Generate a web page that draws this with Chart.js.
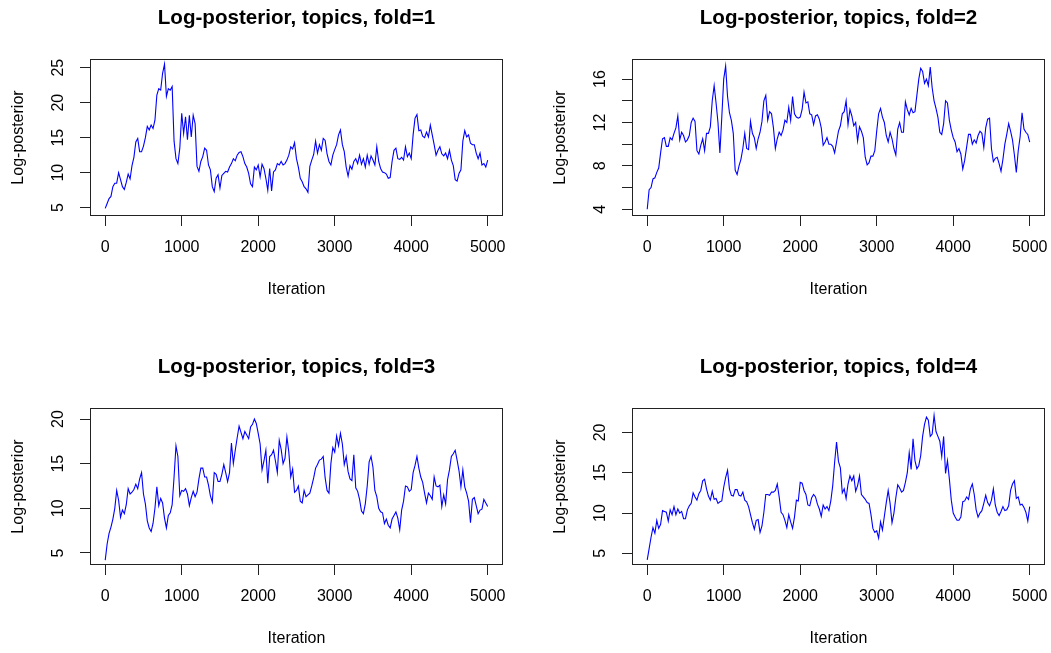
<!DOCTYPE html>
<html lang="en">
<head>
<meta charset="UTF-8">
<title>Log-posterior traces, topics model</title>
<script src="https://cdn.jsdelivr.net/npm/chart.js"></script>
<style>
  body { margin: 0; background: #fff; }
  #wrap { position: relative; width: 1051px; height: 653px; }
  .panel { position: absolute; width: 509px; height: 304px; }
</style>
</head>
<body>
<div id="wrap">
  <div class="panel" style="left:0;top:0"><canvas id="fold1" width="509" height="304"></canvas></div>
  <div class="panel" style="left:542px;top:0"><canvas id="fold2" width="509" height="304"></canvas></div>
  <div class="panel" style="left:0;top:349px"><canvas id="fold3" width="509" height="304"></canvas></div>
  <div class="panel" style="left:542px;top:349px"><canvas id="fold4" width="509" height="304"></canvas></div>
</div>

<script>
// trace is stored thinned: one value every STEP iterations (0..5000)
const STEP = 25;
const xTicks = [0, 1000, 2000, 3000, 4000, 5000];
const xRange = [-199, 5200];

const fold1 = [
  4.9, 5.6, 6.3, 6.6, 8.0, 8.5, 8.5, 10.0, 9.0, 8.0,
  7.6, 8.6, 9.8, 9.1, 11.0, 12.2, 14.4, 14.9, 13.0, 13.0,
  13.8, 15.0, 16.6, 16.1, 16.8, 16.3, 17.5, 21.1, 22.0, 21.8,
  24.2, 25.5, 20.9, 22.0, 21.8, 22.3, 14.5, 12.0, 11.3, 13.5,
  18.5, 15.6, 18.0, 14.7, 18.2, 15.1, 18.2, 17.0, 10.9, 10.2,
  11.6, 12.3, 13.5, 13.2, 11.1, 10.4, 8.0, 7.3, 9.2, 9.7,
  7.8, 9.6, 9.9, 10.2, 10.1, 10.8, 11.3, 12.0, 11.7, 12.5,
  12.9, 13.0, 12.3, 11.3, 10.8, 9.9, 8.4, 8.0, 10.8, 10.4,
  11.1, 9.4, 11.2, 10.6, 9.2, 7.5, 10.6, 7.4, 10.1, 10.4,
  11.3, 11.1, 11.6, 11.1, 11.3, 11.8, 12.5, 13.7, 13.4, 14.3,
  12.0, 10.8, 9.2, 8.7, 8.0, 7.7, 7.2, 10.9, 11.8, 12.6,
  14.5, 12.8, 14.0, 13.2, 14.9, 14.6, 12.7, 11.6, 11.1, 12.5,
  13.3, 14.0, 15.4, 16.1, 14.0, 13.0, 10.8, 9.5, 11.0, 10.5,
  11.6, 12.0, 11.3, 12.5, 11.2, 12.0, 10.8, 12.5, 11.2, 12.4,
  11.8, 11.1, 13.7, 11.6, 10.6, 10.1, 10.0, 9.8, 9.2, 9.3,
  11.6, 13.2, 13.5, 12.0, 11.9, 12.2, 11.8, 13.7, 12.3, 12.8,
  12.0, 15.4, 17.8, 18.3, 16.0, 16.1, 15.2, 15.0, 15.8, 15.1,
  16.8, 15.4, 14.0, 12.5, 13.2, 13.7, 12.7, 12.4, 12.8, 12.0,
  13.2, 11.8, 11.0, 9.0, 8.8, 9.9, 10.4, 14.5, 16.0, 15.1,
  15.4, 14.2, 14.0, 14.0, 12.8, 12.0, 12.8, 11.1, 11.3, 10.8,
  11.8
];

const fold2 = [
  4.0, 5.8, 6.0, 6.8, 6.9, 7.4, 7.8, 9.2, 10.5, 10.6,
  9.8, 9.8, 10.6, 10.4, 11.0, 11.5, 12.6, 10.4, 11.1, 10.8,
  10.2, 10.4, 10.8, 12.0, 12.4, 12.1, 9.4, 9.1, 9.9, 10.5,
  9.4, 11.0, 11.0, 11.6, 14.0, 15.4, 13.8, 12.0, 9.2, 12.5,
  16.0, 17.2, 14.4, 12.9, 12.2, 11.0, 7.6, 7.2, 8.0, 8.6,
  9.6, 11.0, 9.6, 9.5, 12.1, 11.0, 10.6, 9.6, 10.5, 11.1,
  12.1, 14.0, 14.5, 12.2, 13.0, 12.8, 11.5, 9.6, 10.5, 11.1,
  10.8, 11.3, 12.2, 12.0, 13.4, 12.2, 14.4, 12.8, 12.5, 12.4,
  12.5, 13.2, 14.8, 13.8, 13.9, 12.8, 12.7, 11.8, 12.6, 12.7,
  12.3, 11.5, 9.9, 10.2, 10.6, 10.0, 10.0, 9.8, 9.2, 10.2,
  11.2, 11.7, 12.8, 13.0, 14.0, 11.8, 13.2, 12.6, 11.7, 12.0,
  10.3, 11.6, 11.2, 10.6, 8.8, 8.1, 8.3, 8.9, 8.9, 9.4,
  11.2, 12.8, 13.3, 12.5, 12.0, 10.8, 10.2, 11.1, 10.5, 9.6,
  9.0, 11.4, 12.0, 11.1, 11.1, 13.9, 13.2, 12.7, 13.3, 12.9,
  13.0, 14.5, 16.0, 17.0, 16.7, 15.6, 16.0, 15.4, 17.1, 15.2,
  14.0, 13.3, 12.5, 11.1, 10.9, 11.9, 14.0, 13.8, 12.2, 11.3,
  10.6, 10.2, 9.3, 9.6, 9.1, 7.7, 8.5, 9.7, 10.9, 10.9,
  10.0, 10.4, 10.1, 10.8, 11.2, 11.0, 9.7, 11.5, 12.3, 12.4,
  9.6, 8.4, 8.7, 8.8, 8.2, 7.5, 8.6, 10.0, 10.9, 11.9,
  11.2, 10.4, 9.0, 7.4, 9.4, 10.7, 12.9, 11.4, 11.1, 10.9,
  10.2
];

const fold3 = [
  4.2, 6.0, 7.2, 7.9, 8.8, 10.0, 12.0, 10.9, 9.0, 9.8,
  9.4, 10.4, 12.2, 11.6, 11.8, 12.1, 12.7, 12.2, 13.3, 14.0,
  11.6, 10.5, 8.6, 7.8, 7.4, 8.3, 10.0, 12.4, 10.3, 11.1,
  10.6, 8.9, 7.8, 9.2, 9.5, 10.4, 13.5, 17.0, 15.8, 11.4,
  12.0, 11.9, 12.2, 11.6, 10.3, 11.2, 11.9, 11.3, 11.8, 13.3,
  14.5, 14.5, 13.5, 13.5, 12.6, 11.4, 10.7, 14.0, 13.8, 13.0,
  13.0, 13.8, 14.9, 14.0, 13.0, 14.0, 17.3, 15.0, 16.5, 17.9,
  19.2, 18.5, 17.8, 18.6, 18.2, 17.8, 19.1, 19.4, 20.0, 19.5,
  18.4, 17.2, 14.3, 15.3, 16.5, 12.8, 15.8, 16.0, 16.5, 15.3,
  14.0, 17.6, 16.6, 15.0, 15.6, 18.0, 16.3, 13.5, 14.4, 11.8,
  12.0, 12.5, 10.8, 10.6, 12.0, 11.3, 11.5, 11.7, 12.5, 13.4,
  14.5, 14.9, 15.4, 15.5, 15.8, 13.4, 12.0, 11.7, 15.0, 16.8,
  16.3, 18.1, 17.0, 18.4, 17.2, 14.9, 15.8, 14.1, 13.3, 13.1,
  16.0, 12.3, 11.9, 11.0, 9.7, 9.4, 10.5, 12.5, 15.2, 15.8,
  14.6, 12.0, 11.3, 10.0, 9.6, 9.5, 8.3, 8.8, 8.1, 7.8,
  8.8, 9.2, 9.6, 8.9, 7.6, 9.8, 10.8, 12.5, 12.4, 11.9,
  12.1, 14.0, 14.8, 15.8, 14.5, 13.5, 12.9, 11.7, 10.6, 11.7,
  11.4, 11.0, 13.5, 12.5, 12.4, 12.6, 10.2, 11.5, 10.5, 13.2,
  14.3, 15.8, 16.1, 16.5, 15.4, 14.2, 12.4, 14.3, 12.4, 11.7,
  10.8, 8.4, 11.0, 11.2, 10.3, 9.4, 9.8, 9.9, 11.0, 10.6,
  10.2
];

const fold4 = [
  4.2, 5.6, 7.0, 8.2, 7.5, 9.1, 8.1, 8.6, 10.3, 10.2,
  10.1, 9.0, 10.4, 9.8, 10.8, 9.8, 10.5, 10.0, 10.2, 9.3,
  9.3, 10.4, 10.9, 11.2, 12.5, 12.0, 11.6, 12.4, 12.8, 14.0,
  14.2, 13.0, 12.1, 11.6, 12.7, 11.7, 11.8, 11.2, 11.4, 11.5,
  13.2, 14.4, 15.3, 13.0, 12.2, 12.1, 12.9, 12.9, 12.2, 12.1,
  12.6, 11.6, 11.4, 10.8, 9.8, 8.8, 8.0, 9.1, 9.2, 7.6,
  8.4, 10.1, 12.3, 12.3, 12.2, 12.6, 12.6, 12.8, 13.6, 12.0,
  10.1, 9.8, 9.1, 8.2, 9.8, 8.9, 8.1, 9.5, 11.6, 11.5,
  13.8, 13.7, 12.8, 12.3, 11.0, 10.9, 11.9, 12.3, 12.0, 11.1,
  10.5, 9.6, 11.0, 10.5, 10.8, 10.3, 11.5, 13.4, 16.3, 18.8,
  16.4, 15.6, 12.5, 13.0, 11.8, 13.6, 14.6, 14.0, 14.6, 12.7,
  13.4, 14.6, 12.3, 12.0, 11.7, 11.3, 11.2, 9.8, 8.1, 7.6,
  7.8, 6.9, 8.9, 7.9, 9.6, 11.3, 12.8, 11.2, 8.8, 10.0,
  11.9, 13.5, 13.1, 12.6, 12.8, 13.8, 15.0, 17.5, 15.4, 19.2,
  16.5, 15.5, 15.9, 17.1, 19.5, 21.0, 21.9, 21.5, 19.5, 19.8,
  22.1, 20.1, 19.5, 18.9, 17.0, 19.5, 14.9, 16.5, 14.2, 11.6,
  10.0, 9.5, 9.1, 9.1, 9.5, 11.4, 11.5, 12.0, 11.7, 13.0,
  13.6, 12.3, 10.4, 9.5, 10.0, 10.3, 11.2, 12.2, 11.3, 10.9,
  11.6, 13.0, 11.0, 10.1, 9.7, 10.2, 10.8, 10.3, 10.4, 10.9,
  12.8, 13.6, 14.0, 11.8, 12.0, 11.0, 11.1, 10.7, 10.1, 9.0,
  10.8
];

// y axes: ticks and visible range of each panel
const yTicks1 = [5, 10, 15, 20, 25];
const yTicks2 = [4, 6, 8, 10, 12, 14, 16];
const yTicks3 = [5, 10, 15, 20];
const yTicks4 = [5, 10, 15, 20];
const yLabels2 = [4, 8, 12, 16];   // the in-between ticks stay unlabeled
const yRange1 = [3.81, 26.24];
const yRange2 = [3.38, 17.85];
const yRange3 = [3.65, 21.23];
const yRange4 = [3.56, 23.02];

const FONT = "'Liberation Sans', Arial, Helvetica, sans-serif";
Chart.defaults.font.family = FONT;
Chart.defaults.font.size = 16;
Chart.defaults.color = '#000';

// box around the plotting region
const frame = {
  id: 'frame',
  afterDraw(chart) {
    const { ctx, chartArea: a } = chart;
    ctx.save();
    ctx.strokeStyle = '#222';
    ctx.lineWidth = 1;
    ctx.strokeRect(Math.round(a.left) + 0.5, Math.round(a.top) + 0.5,
                   Math.round(a.width) - 1, Math.round(a.height) - 1);
    ctx.restore();
  }
};

const tickGrid = {
  display: true,
  drawOnChartArea: false,
  drawTicks: true,
  tickLength: 10,
  color: '#222',
  lineWidth: 1
};

function tracePlot(id, fold, values, yTicks, yRange, yLabels) {
  const points = values.map((v, i) => ({ x: i * STEP, y: v }));
  new Chart(document.getElementById(id), {
    type: 'line',
    data: {
      datasets: [{
        data: points,
        borderColor: '#0000ff',
        borderWidth: 1.1,
        pointRadius: 0,
        tension: 0,
        fill: false
      }]
    },
    options: {
      responsive: false,
      animation: false,
      events: [],
      layout: { padding: { right: 6 }, autoPadding: false },
      plugins: {
        legend: { display: false },
        tooltip: { enabled: false },
        title: {
          display: true,
          text: 'Log-posterior, topics, fold=' + fold,
          fullSize: false,
          color: '#000',
          font: { family: FONT, size: 20.6, weight: 'bold', lineHeight: 1.2 },
          padding: { top: 6, bottom: 28.3 }
        }
      },
      scales: {
        x: {
          type: 'linear',
          min: xRange[0],
          max: xRange[1],
          afterBuildTicks: s => { s.ticks = xTicks.map(v => ({ value: v })); },
          afterFit: s => { s.height = 88; s.paddingLeft = 0; s.paddingRight = 0; },
          grid: tickGrid,
          border: { display: false },
          ticks: {
            autoSkip: false,
            maxRotation: 0,
            padding: 12,
            color: '#000',
            callback: v => String(v)
          },
          title: {
            display: true,
            text: 'Iteration',
            color: '#000',
            font: { size: 16, lineHeight: 1.2 },
            padding: { top: 0, bottom: 4.6 }
          }
        },
        y: {
          type: 'linear',
          min: yRange[0],
          max: yRange[1],
          afterBuildTicks: s => { s.ticks = yTicks.map(v => ({ value: v })); },
          afterFit: s => { s.width = 90; s.paddingTop = 0; s.paddingBottom = 0; },
          grid: tickGrid,
          border: { display: false },
          ticks: {
            autoSkip: false,
            minRotation: 90,
            maxRotation: 90,
            crossAlign: 'center',
            padding: 13,
            color: '#000',
            callback: v => (!yLabels || yLabels.includes(v)) ? String(v) : ''
          },
          title: {
            display: true,
            text: 'Log-posterior',
            color: '#000',
            font: { size: 16, lineHeight: 1.2 },
            padding: { top: 9, bottom: 0 }
          }
        }
      }
    },
    plugins: [frame]
  });
}

tracePlot('fold1', 1, fold1, yTicks1, yRange1);
tracePlot('fold2', 2, fold2, yTicks2, yRange2, yLabels2);
tracePlot('fold3', 3, fold3, yTicks3, yRange3);
tracePlot('fold4', 4, fold4, yTicks4, yRange4);
</script>
</body>
</html>
